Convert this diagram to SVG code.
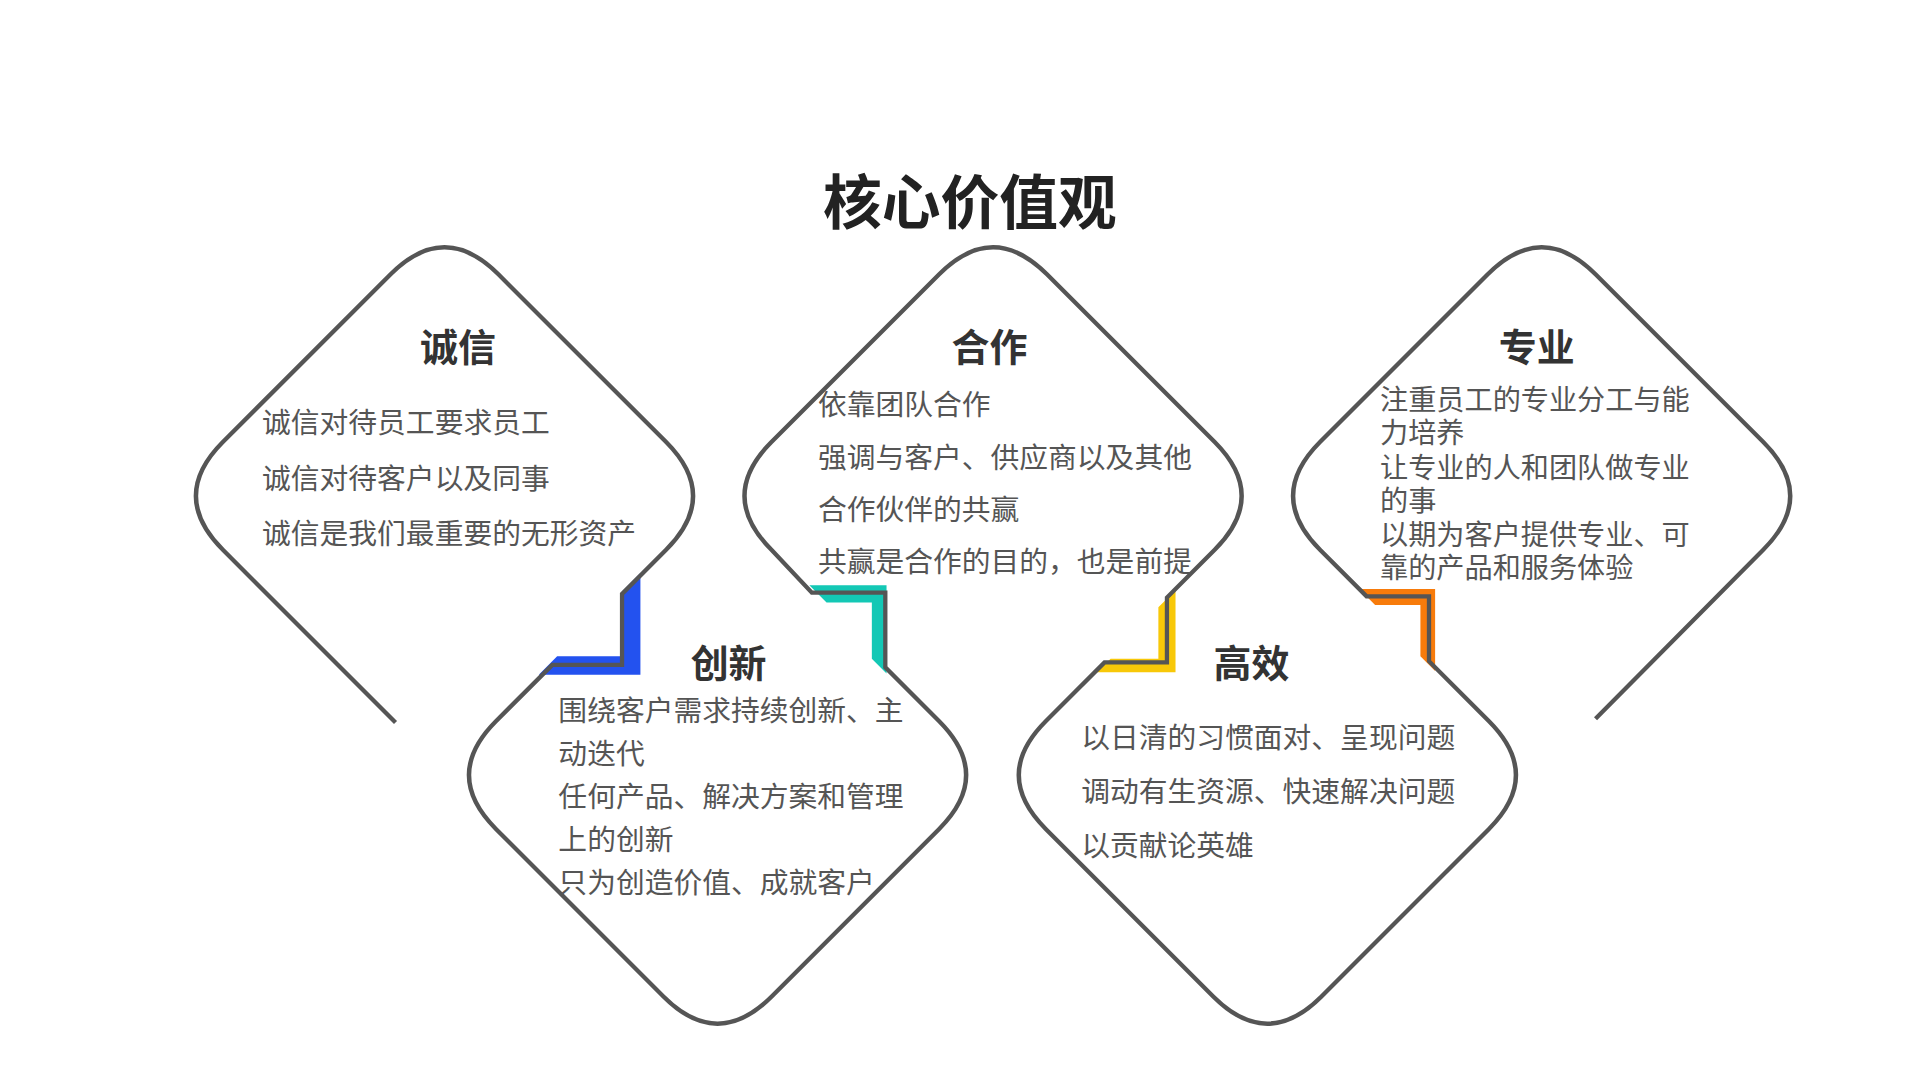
<svg xmlns="http://www.w3.org/2000/svg" width="1920" height="1080" viewBox="0 0 1920 1080">
<style>
.t{font-family:"Noto Sans CJK SC","Noto Sans",sans-serif;}
.title{font-size:48px;font-weight:bold;fill:#222;text-anchor:middle;}
.h{font-size:31px;font-weight:bold;fill:#333;text-anchor:middle;}
.b{font-size:23.5px;fill:#555;}
.s{font-size:23px;}
.line{fill:none;stroke:#555;stroke-width:3.5;stroke-linejoin:miter;}
</style>
<rect width="1920" height="1080" fill="#fff"/>
<g transform="scale(1.2245)">
<g id="brackets">
<polygon points="523,468 523,551 440,551 455,536 508,536 508,483" fill="#2352ef"/>
<polygon points="661,478 724,478 724,550 712,538 712,492 675,492" fill="#13c8b5"/>
<polygon points="960,482 960,549 895,549 907,538 946,538 946,496" fill="#f8c808"/>
<polygon points="1110,481 1172,481 1172,548 1160,536 1160,494 1123,494" fill="#f77b0b"/>
</g>
<g id="connectors">
<path class="line" d="M323,590 L182,449 Q138,405 182,361 L319,224 Q363,180 407,224 L544,361 Q588,405 544,449 L508,485 L508,543 L451,543 L405,589 Q361,633 405,677 L542,814 Q586,858 630,814 L767,677 Q811,633 767,589 L723,545 L723,484 L663,484 L630,449 Q586,405 630,361 L767,224 Q811,180 855,224 L992,361 Q1036,405 992,449 L953,488 L953,541 L902,541 L854,589 Q810,633 854,677 L991,814 Q1035,858 1079,814 L1216,677 Q1260,633 1216,589 L1167,540 L1167,487 L1116,487 L1078,449 Q1034,405 1078,361 L1215,224 Q1259,180 1303,224 L1440,361 Q1484,405 1440,449 L1303,587"/>
</g>
<text class="t title" x="792" y="183">核心价值观</text>
<g id="node-chengxin" class="t">
<text class="h" x="374" y="295">诚信</text>
<text class="b" x="214" y="354">诚信对待员工要求员工</text>
<text class="b" x="214" y="399">诚信对待客户以及同事</text>
<text class="b" x="214" y="444">诚信是我们最重要的无形资产</text>
</g>
<g id="node-hezuo" class="t">
<text class="h" x="808" y="295">合作</text>
<text class="b" x="668" y="339">依靠团队合作</text>
<text class="b" x="668" y="382">强调与客户、供应商以及其他</text>
<text class="b" x="668" y="425">合作伙伴的共赢</text>
<text class="b" x="668" y="467">共赢是合作的目的，也是前提</text>
</g>
<g id="node-zhuanye" class="t">
<text class="h" x="1255" y="295">专业</text>
<text class="b s" x="1127" y="335">注重员工的专业分工与能</text>
<text class="b s" x="1127" y="362">力培养</text>
<text class="b s" x="1127" y="390">让专业的人和团队做专业</text>
<text class="b s" x="1127" y="417">的事</text>
<text class="b s" x="1127" y="445">以期为客户提供专业、可</text>
<text class="b s" x="1127" y="472">靠的产品和服务体验</text>
</g>
<g id="node-chuangxin" class="t">
<text class="h" x="595" y="553">创新</text>
<text class="b" x="456" y="589">围绕客户需求持续创新、主</text>
<text class="b" x="456" y="624">动迭代</text>
<text class="b" x="456" y="659">任何产品、解决方案和管理</text>
<text class="b" x="456" y="694">上的创新</text>
<text class="b" x="456" y="729">只为创造价值、成就客户</text>
</g>
<g id="node-gaoxiao" class="t">
<text class="h" x="1022" y="553">高效</text>
<text class="b" x="883" y="611">以日清的习惯面对、呈现问题</text>
<text class="b" x="883" y="655">调动有生资源、快速解决问题</text>
<text class="b" x="883" y="699">以贡献论英雄</text>
</g>
</g>
</svg>
